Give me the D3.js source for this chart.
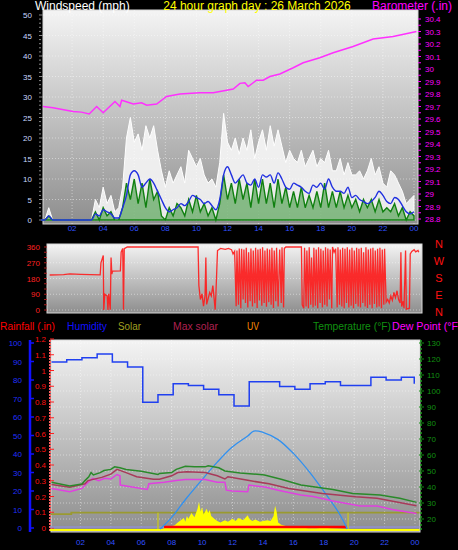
<!DOCTYPE html>
<html><head><meta charset="utf-8">
<script src="https://cdn.jsdelivr.net/npm/d3@7"></script>
<style>body{margin:0;background:#000}svg{display:block;font-family:"Liberation Sans",Arial,sans-serif}</style>
</head><body><svg id="c" width="458" height="550"></svg>
<script>
// ---------- DATA ----------
const windTicks=[0,5,10,15,20,25,30,35,40,45,50];
const baroTicks=[28.8,28.9,29,29.1,29.2,29.3,29.4,29.5,29.6,29.7,29.8,29.9,30,30.1,30.2,30.3,30.4];
const hourTicks=[2,4,6,8,10,12,14,16,18,20,22,24];
const hourLabels=["02","04","06","08","10","12","14","16","18","20","22","00"];
// wind, 15-minute steps from 00:00
const windAvg=[0,0,1,0,0,0,0,0,0,0,0,0,0,0,1.5,1,2.5,2,1.5,0.5,0.5,3,6,11,12,11,8,9,10,9,7,5,3,2,2.5,3,4,3.5,4.5,6,5.5,5,4,4.5,3.5,2.5,5,11,13,11,9,10,11,9,8.5,10,8,11,10.5,11,9,11.5,10,8,7.5,9,8.5,8,7,6.5,8.5,8,9,7.5,10,8,7,7,6.5,8,5.5,6,5,4.5,4,4.5,5.5,7,6,4.5,4,5.5,5,3.5,2,1.5,2];
const windGust=[0,0,3,0,0,0,0,0,0,0,0,0,0,0,5,3,8,4,6,2,3,8,20,25,19,21,17,23,20,23,17,12,8,12,9,11,13,9,17,15,13,15,11,9,10,8,14,26,19,17,20,16,20,17,22,15,19,22,17,23,18,22,18,14,17,15,14,17,13,15,17,13,15,14,17,12,12,15,11,14,11,11,12,10,12,15,11,13,9,8,12,11,9,7,4,5,6];
const windSpeed=[0,0,1,0,0,0,0,0,0,0,0,0,0,0,2,0,3,1,2,0,0,3,9,5,10,4,9,3,10,5,7,1,0,3,1,4,3,1,5,2,6,2,4,1,3,0,4,11,5,9,4,10,5,9,3,10,4,10,4,9,3,10,4,8,3,7,3,8,3,6,3,7,3,9,3,7,3,7,3,6,3,5,2,5,3,5,2,5,2,3,2,4,1,3,0,2,1];
// barometer [hour, inHg]
const baro=[[0.13,29.70],[0.77,29.69],[2.06,29.66],[2.6,29.655],[3.1,29.64],[3.58,29.70],[4.0,29.65],[4.76,29.74],[5.08,29.70],[5.19,29.75],[5.94,29.72],[6.47,29.73],[6.8,29.71],[7.44,29.72],[8.08,29.78],[8.94,29.80],[10.2,29.81],[11.08,29.81],[12.37,29.84],[12.8,29.885],[13.12,29.89],[13.33,29.86],[13.87,29.91],[14.3,29.91],[14.73,29.94],[15.37,29.96],[16.23,30.01],[16.87,30.05],[17.94,30.09],[18.8,30.13],[20.08,30.18],[21.37,30.24],[22.66,30.26],[24.16,30.30]];
// wind direction [hour, degrees]
const dirTicks=[0,90,180,270,360];
const compass=["N","W","S","E","N"];
const windDir=[[0.3,200],[1.2,202],[1.6,206],[2.3,204],[3.55,201],[3.6,270],[3.75,312],[3.78,0],[3.85,90],[4.0,80],[4.05,0],[4.1,92],[4.2,2],[4.25,300],[4.3,205],[4.35,222],[4.85,224],[4.9,330],[5.0,352],[5.05,2],[5.1,350],[5.3,360],[9.85,360],[9.9,140],[10.0,60],[10.1,92],[10.2,22],[10.3,84],[10.35,300],[10.4,32],[10.6,100],[10.7,80],[10.8,140],[10.95,2],[11.0,100],[11.1,340],[11.3,352],[11.6,346],[11.8,352],[12.0,345],[12.1,320],[12.2,335],[12.3,22],[12.35,340],[12.45,30],[12.5,352],[12.6,10],[12.65,350],[12.75,60],[12.8,345],[12.9,40],[12.95,355],[13.05,15],[13.1,330],[13.2,50],[13.25,352],[13.35,20],[13.4,340],[13.5,38],[13.55,356],[13.65,12],[13.7,345],[13.8,55],[13.85,350],[13.95,25],[14.0,358],[14.1,40],[14.15,340],[14.25,18],[14.3,352],[14.4,45],[14.45,346],[14.55,30],[14.6,356],[14.7,12],[14.75,340],[14.85,50],[14.9,355],[15.0,20],[15.1,345],[15.2,40],[15.25,358],[15.35,15],[15.4,352],[15.5,360],[16.5,360],[16.55,30],[16.65,10],[16.7,355],[16.8,20],[16.85,340],[16.95,10],[17.0,358],[17.1,30],[17.15,300],[17.25,15],[17.3,355],[17.4,25],[17.45,345],[17.55,10],[17.6,358],[17.7,40],[17.75,350],[17.85,15],[17.9,340],[18.0,30],[18.05,358],[18.15,20],[18.2,352],[18.3,60],[18.35,345],[18.45,10],[18.5,360],[18.6,330],[18.7,350],[18.8,15],[18.85,358],[18.95,30],[19.0,345],[19.1,20],[19.15,356],[19.25,10],[19.3,350],[19.4,40],[19.45,358],[19.55,15],[19.6,345],[19.7,25],[19.75,356],[19.85,10],[19.9,340],[20.0,35],[20.05,355],[20.15,20],[20.2,350],[20.3,15],[20.35,356],[20.45,40],[20.5,330],[20.6,20],[20.65,358],[20.75,12],[20.8,345],[20.9,30],[20.95,352],[21.05,10],[21.1,356],[21.2,35],[21.25,340],[21.35,15],[21.4,350],[21.5,20],[21.55,355],[21.65,10],[21.7,345],[21.8,30],[21.85,350],[21.95,45],[22.05,60],[22.15,40],[22.25,80],[22.35,55],[22.45,100],[22.55,70],[22.65,110],[22.75,60],[22.85,40],[22.9,330],[22.95,20],[23.05,50],[23.1,10],[23.2,340],[23.25,5],[23.45,10],[23.5,320],[23.6,335],[23.75,345],[23.85,332],[24.0,340],[24.05,330]];
// bottom panel
const humTicks=[0,10,20,30,40,50,60,70,80,90,100];
const rainTicks=[0,0.1,0.2,0.3,0.4,0.5,0.6,0.7,0.8,0.9,1,1.1,1.2];
const tempTicks=[20,30,40,50,60,70,80,90,100,110,120,130];
const humidity=[89.7,91,92,94,89.7,87,68,72,78,77,75,72,66,79,79,76.5,75,78,79,77,77,81.5,80,81.5]; // hourly
const humidityEnd=78;
const temperature=[[0.1,42.9],[1.3,40.6],[2.1,41.9],[2.3,44],[2.55,46.4],[2.7,49.1],[2.85,47.5],[3.3,49],[3.55,50.3],[4.0,51],[4.25,52.6],[4.6,52],[5.0,51],[6.0,49.9],[7.1,47.8],[7.2,48.5],[8.0,49],[8.3,51],[8.9,53],[9.5,52.6],[10.2,52.6],[10.4,53.3],[11.1,52],[11.5,50],[12.5,48.8],[13.8,47.8],[14.1,47.5],[15.2,44.8],[16.5,41.2],[18.6,38.5],[19.9,36],[21.7,35],[23.0,32.9],[24.1,30.4]];
const maxSolarT=[[0.1,41.6],[1.3,39.8],[2.3,42],[2.5,44],[3.4,46],[4.0,48],[4.4,51],[5.0,49],[5.7,46.4],[6.8,44.8],[7.2,44.8],[8.0,47],[8.4,49],[9.0,49.5],[10.2,49],[11.0,47],[11.5,45],[11.7,46.4],[13.1,44],[14.4,42],[15.7,39],[17.9,36],[20.1,33.9],[21.5,33],[24.1,28.3]];
const dewPoint=[[0.1,39.1],[1.3,37],[2.1,39.1],[2.4,42],[2.8,45.4],[3.2,44],[3.6,45.5],[4.0,45],[4.4,47.8],[4.6,47],[4.62,41.2],[5.5,39.8],[6.4,38.5],[6.5,42],[7.5,43],[8.3,44],[8.9,44.7],[10.2,44.7],[11.0,43],[11.5,43],[11.6,38],[12.0,37.5],[13.0,37],[13.08,41.2],[14.2,39.8],[15.0,38],[16.5,35],[17.3,34],[18.6,31.2],[20.4,28.1],[21.5,28.1],[22.5,26],[24.1,23.5]];
// solar units (W/m²)
const solarMax=[[7.24,0],[8,80],[9,215],[10,340],[11,460],[12,565],[13,640],[13.4,674],[14,665],[15,615],[16,520],[17,400],[18,260],[19,110],[19.55,0]];
const solar=[[7.4,0],[7.6,10],[7.9,15],[8.2,25],[8.4,45],[8.6,60],[8.8,75],[8.9,50],[9.0,90],[9.1,70],[9.3,110],[9.5,80],[9.7,140],[9.8,185],[9.9,120],[10.0,150],[10.1,100],[10.3,140],[10.4,110],[10.5,130],[10.6,90],[10.8,70],[11.0,55],[11.2,45],[11.5,60],[11.7,50],[12.0,70],[12.2,55],[12.4,75],[12.7,60],[13.0,95],[13.1,70],[13.3,55],[13.5,65],[13.8,50],[14.0,55],[14.3,60],[14.5,55],[14.7,90],[14.8,160],[14.9,120],[15.0,45],[15.2,30],[15.5,20],[15.8,15],[16.2,10],[16.6,8],[17.0,6],[17.5,5],[18.0,8],[18.5,5],[19.0,4],[19.5,0]];
const uvLine=[[0.05,103],[1.4,103],[1.4,112],[24.3,112]];
const sunTimes=[7.1,19.6];
const rainfall=[[7.5,0],[19.5,0]];

// ---------- DRAW ----------
const svg=d3.select("#c");
const defs=svg.append("defs");
const g=defs.append("linearGradient").attr("id","bg").attr("x1",0).attr("x2",0).attr("y1",0).attr("y2",1);
g.append("stop").attr("offset",0).attr("stop-color","#f4f4f4");
g.append("stop").attr("offset",1).attr("stop-color","#8e8e8e");

function panel(x0,x1,y0,y1){
  svg.append("rect").attr("x",x0).attr("y",y0).attr("width",x1-x0).attr("height",y1-y0).attr("fill","url(#bg)").attr("stroke","#d8d8d8");
}
function grid(xs,ys,x0,x1,y0,y1){
  const gg=svg.append("g").attr("stroke","#ffffff").attr("stroke-opacity",0.45).attr("stroke-dasharray","1,2");
  xs.forEach(x=>gg.append("line").attr("x1",x).attr("x2",x).attr("y1",y0).attr("y2",y1));
  ys.forEach(y=>gg.append("line").attr("x1",x0).attr("x2",x1).attr("y1",y).attr("y2",y));
}
function txt(x,y,s,c,size,anchor){return svg.append("text").attr("x",x).attr("y",y).attr("fill",c).attr("font-size",size).attr("text-anchor",anchor||"start").text(s);}

// ===== Top panel =====
const xT=d3.scaleLinear().domain([0,24]).range([41,414]);
const yW=d3.scaleLinear().domain([0,50]).range([220,15]);
const yB=d3.scaleLinear().domain([28.8,30.4]).range([219,19]);
panel(43,418,10,224);
grid(hourTicks.map(xT),windTicks.map(yW),43,418,10,224);
txt(35,10,"Windspeed (mph)","#ffffff",12);
txt(257,10,"24 hour graph day : 26 March 2026","#ffff00",12,"middle");
txt(372,10,"Barometer (.in)","#ff00ff",12);
windTicks.forEach(t=>txt(32,yW(t)+3,t,"#c8d8ff",8,"end"));
baroTicks.forEach(t=>txt(425,yB(t)+3,t,"#ff00ff",8));
svg.append("g").attr("stroke","#888").selectAll("line").data(d3.range(0,51,1)).join("line").attr("x1",39).attr("x2",t=>t%5?41:43).attr("y1",yW).attr("y2",yW);
svg.append("g").attr("stroke","#ff00ff").selectAll("line").data(d3.range(28.8,30.41,0.05)).join("line").attr("x1",418).attr("x2",421).attr("y1",yB).attr("y2",yB);
hourTicks.forEach((t,i)=>txt(xT(t),231,hourLabels[i],"#3050ff",8,"middle"));
const tq=i=>xT(i*0.25);
svg.append("path").datum(windGust).attr("d",d3.area().x((d,i)=>tq(i)).y0(yW(0)).y1(d=>yW(d))).attr("fill","#ffffff").attr("fill-opacity",0.8).attr("stroke","#ffffff").attr("stroke-width",1);
svg.append("path").datum(windSpeed).attr("d",d3.area().x((d,i)=>tq(i)).y0(yW(0)).y1(d=>yW(d))).attr("fill","#1f8a1f").attr("fill-opacity",0.5).attr("stroke","#108010").attr("stroke-width",1.4);
svg.append("path").datum(windAvg).attr("d",d3.line().x((d,i)=>tq(i)).y(d=>yW(d)).curve(d3.curveMonotoneX)).attr("fill","none").attr("stroke","#2030e0").attr("stroke-width",1.4);
svg.append("path").datum(baro).attr("d",d3.line().x(d=>xT(d[0])).y(d=>yB(d[1]))).attr("fill","none").attr("stroke","#ff30ff").attr("stroke-width",1.5);

// ===== Direction panel =====
const xD=d3.scaleLinear().domain([0,24]).range([45,418]);
const yD=d3.scaleLinear().domain([0,360]).range([310,247]);
panel(47,422,244,313);
grid([],dirTicks.map(yD),47,422,244,313);
dirTicks.forEach(t=>txt(40,yD(t)+3,t,"#ff2020",8,"end"));
svg.append("g").attr("stroke","#aa2020").selectAll("line").data(d3.range(0,361,30)).join("line").attr("x1",44).attr("x2",47).attr("y1",yD).attr("y2",yD);
compass.forEach((c,i)=>txt(439,248+i*17,c,"#ff1010",11,"middle"));
svg.append("path").datum(windDir).attr("d",d3.line().x(d=>xD(d[0])).y(d=>yD(d[1]))).attr("fill","none").attr("stroke","#ff1a1a").attr("stroke-width",1.3).attr("stroke-opacity",0.9);

// ===== Legend =====
[["Rainfall (.in)",0,"#ff0000",55],["Humidity",67,"#1010ff",40],["Solar",118,"#a0a020",23],["Max solar",173,"#b02050",45],["UV",247,"#ff8c00",12],["Temperature (°F)",313,"#109010",78],["Dew Point (°F",392,"#ff00ff",66]].forEach(d=>txt(d[1],330,d[0],d[2],10).attr("textLength",d[3]).attr("lengthAdjust","spacingAndGlyphs"));

// ===== Bottom panel =====
const xB=d3.scaleLinear().domain([0,24]).range([50,415]);
const yH=d3.scaleLinear().domain([0,100]).range([528,343]);
const yR=d3.scaleLinear().domain([0,1.2]).range([528,339]);
const yTp=d3.scaleLinear().domain([20,130]).range([519,343]);
const yS=d3.scaleLinear().domain([0,1300]).range([529,340]);
panel(51,420,340,532);
grid(hourTicks.map(xB),yTp.ticks(11).map(yTp),51,420,340,532);
svg.append("line").attr("x1",30).attr("x2",30).attr("y1",340).attr("y2",532).attr("stroke","#1010ff").attr("stroke-width",2.5);
humTicks.forEach(t=>{txt(22,yH(t)+3,t,"#2030ff",8,"end");svg.append("line").attr("x1",30).attr("x2",34).attr("y1",yH(t)).attr("y2",yH(t)).attr("stroke","#1010ff").attr("stroke-width",1.5);});
svg.append("line").attr("x1",50).attr("x2",50).attr("y1",340).attr("y2",532).attr("stroke","#ff6060").attr("stroke-width",2).attr("stroke-dasharray","2,1");
rainTicks.forEach(t=>{txt(46,yR(t)+3,t,"#ff1010",8,"end");svg.append("line").attr("x1",50).attr("x2",54).attr("y1",yR(t)).attr("y2",yR(t)).attr("stroke","#ff2020");});
svg.append("line").attr("x1",421).attr("x2",421).attr("y1",340).attr("y2",532).attr("stroke","#20a020").attr("stroke-width",1.5).attr("stroke-dasharray","2,2");
tempTicks.forEach(t=>{txt(427,yTp(t)+3,t,"#109010",8);svg.append("line").attr("x1",419).attr("x2",424).attr("y1",yTp(t)).attr("y2",yTp(t)).attr("stroke","#109010");});
hourTicks.forEach((t,i)=>txt(xB(t),545,hourLabels[i],"#3050ff",8,"middle"));
svg.append("line").attr("x1",xB(0)).attr("x2",xB(24.3)).attr("y1",527).attr("y2",527).attr("stroke","#9090d0").attr("stroke-width",1.5);
svg.append("line").attr("x1",xB(0)).attr("x2",xB(24.3)).attr("y1",530).attr("y2",530).attr("stroke","#ffff00").attr("stroke-width",2);
svg.append("path").datum(uvLine).attr("d",d3.line().x(d=>xB(d[0])).y(d=>yS(d[1]))).attr("fill","none").attr("stroke","#9a9a30").attr("stroke-width",1.8);
sunTimes.forEach(t=>svg.append("line").attr("x1",xB(t)).attr("x2",xB(t)).attr("y1",yS(112)).attr("y2",yS(0)).attr("stroke","#c0c030").attr("stroke-width",1.5));
svg.append("path").datum(solar).attr("d",d3.area().x(d=>xB(d[0])).y0(yS(0)).y1(d=>yS(d[1]))).attr("fill","#ffff00");
svg.append("path").datum(rainfall).attr("d",d3.line().x(d=>xB(d[0])).y(d=>yR(d[1])-1)).attr("stroke","#ff0000").attr("stroke-width",2.5);
svg.append("path").datum(solarMax).attr("d",d3.line().x(d=>xB(d[0])).y(d=>yS(d[1])).curve(d3.curveCatmullRom)).attr("fill","none").attr("stroke","#3090f0").attr("stroke-width",1.3);
svg.append("path").datum(humidity.concat([humidityEnd])).attr("d",d3.line().x((d,i)=>xB(i<humidity.length?i+0.1:23.95)).y(d=>yH(d)).curve(d3.curveStepAfter)).attr("fill","none").attr("stroke","#2040f0").attr("stroke-width",1.5);
svg.append("path").datum(dewPoint).attr("d",d3.line().x(d=>xB(d[0])).y(d=>yTp(d[1]))).attr("fill","none").attr("stroke","#e040e0").attr("stroke-width",1.5);
svg.append("path").datum(maxSolarT).attr("d",d3.line().x(d=>xB(d[0])).y(d=>yTp(d[1]))).attr("fill","none").attr("stroke","#a83a5a").attr("stroke-width",1.5);
svg.append("path").datum(temperature).attr("d",d3.line().x(d=>xB(d[0])).y(d=>yTp(d[1]))).attr("fill","none").attr("stroke","#2a8a2a").attr("stroke-width",1.5);
</script></body></html>
